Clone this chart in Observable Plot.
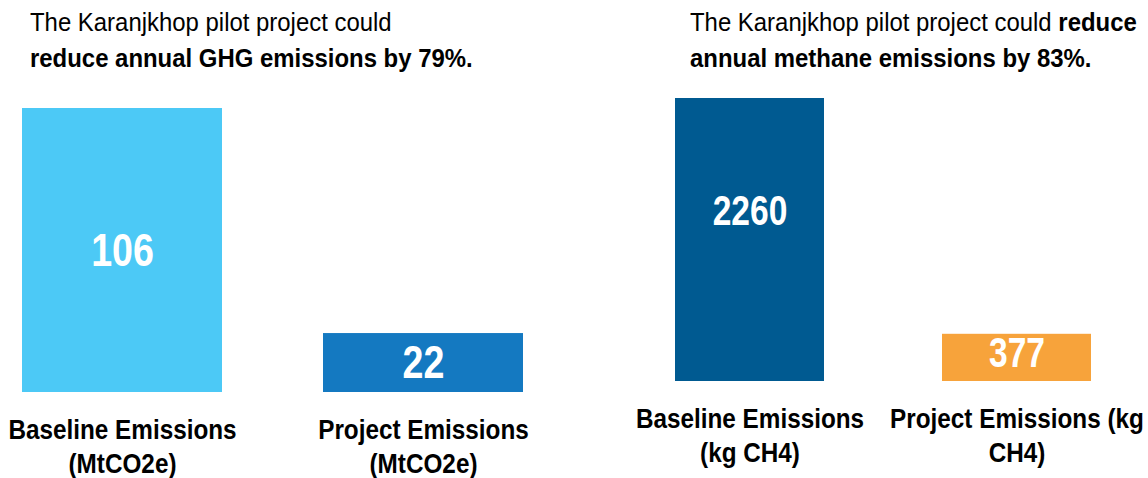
<!DOCTYPE html>
<html>
<head>
<meta charset="utf-8">
<script src="https://cdn.jsdelivr.net/npm/d3@7"></script>
<script src="https://cdn.jsdelivr.net/npm/@observablehq/plot@0.6"></script>
<style>
  html, body { margin: 0; padding: 0; background: #fff; }
  body { width: 1148px; height: 478px; overflow: hidden; }
  #wrap { position: relative; width: 1148px; height: 478px; font-family: "Liberation Sans Narrow", "Arial Narrow", "Liberation Sans", Arial, sans-serif; }
  .panel { position: absolute; top: 0; width: 574px; height: 478px; }
  .title { position: absolute; top: 4px; font-size: 26px; line-height: 36px; color: #000; white-space: nowrap; z-index: 2;
           transform: scaleX(0.92); transform-origin: 0 0; }
  .title b { font-weight: bold; }
</style>
</head>
<body>
<div id="wrap">
  <div class="panel" id="left"></div>
  <div class="panel" id="right" style="left:574px"></div>
  <div class="title" style="left:30px">The Karanjkhop pilot project could<br><b>reduce annual GHG emissions by 79%.</b></div>
  <div class="title" style="left:690px">The Karanjkhop pilot project could <b>reduce</b><br><b>annual methane emissions by 83%.</b></div>
</div>
<script>
const ghgCategories = ["Baseline Emissions\n(MtCO2e)", "Project Emissions\n(MtCO2e)"];
const ghgValues = [106, 22];
const ghgColors = ["#4CC9F6", "#1479C1"];

const ch4Categories = ["Baseline Emissions\n(kg CH4)", "Project Emissions (kg\nCH4)"];
const ch4Values = [2260, 377];
const ch4Colors = ["#005A91", "#F7A33B"];

const FONT = '"Liberation Sans Narrow", "Arial Narrow", "Liberation Sans", Arial, sans-serif';

// horizontally condense the text glyphs (no narrow font installed)
function condense(svg, labelScale, valueScale) {
  svg.querySelectorAll("text").forEach(t => {
    const g = t.closest("g[aria-label]");
    const isAxis = g && /axis/.test(g.getAttribute("aria-label"));
    const s = isAxis ? labelScale : valueScale;
    const tr = t.getAttribute("transform");
    if (tr && /translate/.test(tr)) {
      t.setAttribute("transform", tr + ` scale(${s},1)`);
    } else {
      const x = +(t.getAttribute("x") || 0);
      t.setAttribute("transform", `translate(${x},0) scale(${s},1) translate(${-x},0)` + (tr ? " " + tr : ""));
    }
  });
  return svg;
}

function makeChart({categories, values, colors, marginLeft, marginRight, marginTop, marginBottom, paddingInner, valueFontSize, labelFrac, tickPadding}) {
  const data = categories.map((c, i) => ({category: c, value: values[i], color: colors[i]}));
  return Plot.plot({
    width: 574,
    height: 478,
    marginLeft, marginRight, marginTop, marginBottom,
    style: {fontFamily: FONT, background: "transparent", color: "#000", overflow: "visible"},
    x: {domain: categories, paddingInner, paddingOuter: 0, axis: null},
    y: {domain: [0, Math.max(...values)], axis: null},
    marks: [
      Plot.barY(data, {x: "category", y: "value", fill: "color"}),
      Plot.text(data, {x: "category", y: d => d.value * labelFrac, text: d => String(d.value),
        fill: "white", fontSize: valueFontSize, fontWeight: "bold"}),
      Plot.axisX({tickSize: 0, tickPadding, fontSize: 27, fontWeight: "bold", lineHeight: 1.26,
        tickFormat: d => d, fill: "#000", label: null})
    ]
  });
}

document.getElementById("left").append(condense(makeChart({
  categories: ghgCategories, values: ghgValues, colors: ghgColors,
  marginLeft: 22, marginRight: 50, marginTop: 108, marginBottom: 86,
  paddingInner: 0.3355, valueFontSize: 47, labelFrac: 0.5, tickPadding: 22
}), 0.9, 0.8));
document.getElementById("right").append(condense(makeChart({
  categories: ch4Categories, values: ch4Values, colors: ch4Colors,
  marginLeft: 101, marginRight: 57, marginTop: 98, marginBottom: 97,
  paddingInner: 0.4436, valueFontSize: 43, labelFrac: 0.6, tickPadding: 22
}), 0.9, 0.78));
</script>
</body>
</html>
